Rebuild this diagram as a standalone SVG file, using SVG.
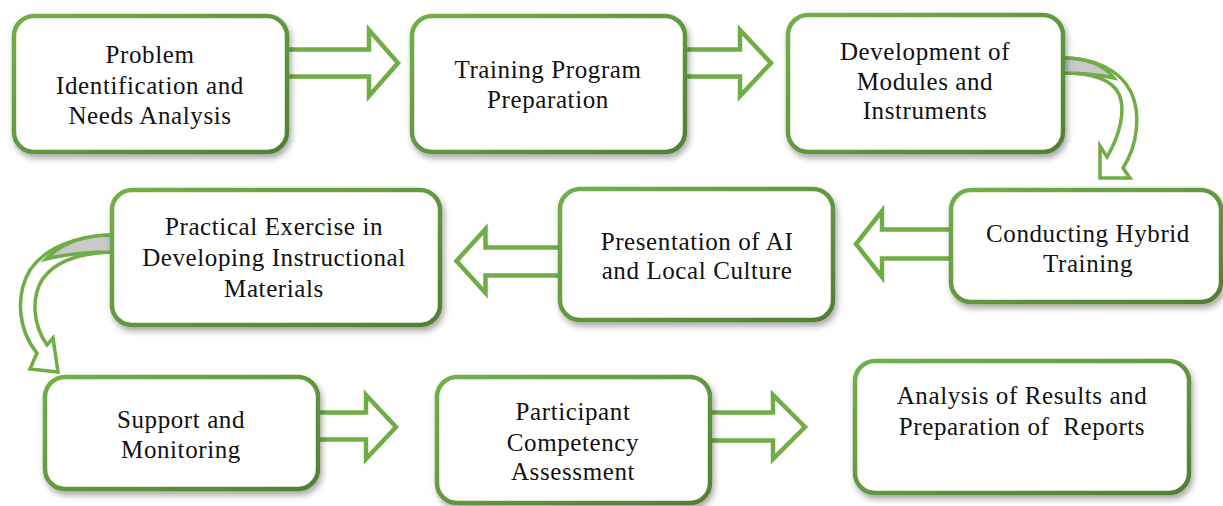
<svg xmlns="http://www.w3.org/2000/svg" width="1223" height="506" viewBox="0 0 1223 506">
  <defs>
    <linearGradient id="boxStroke" x1="0" y1="0" x2="1" y2="1">
      <stop offset="0" stop-color="#72B04A"/>
      <stop offset="0.5" stop-color="#62993F"/>
      <stop offset="1" stop-color="#507F33"/>
    </linearGradient>
    <filter id="shadow" x="-10%" y="-10%" width="125%" height="130%">
      <feDropShadow dx="2" dy="4" stdDeviation="3" flood-color="#000" flood-opacity="0.35"/>
    </filter>
  </defs>
  <style>
    .box { fill: #fff; stroke: url(#boxStroke); stroke-width: 4.5; filter: url(#shadow); }
    .label { font-family: "Liberation Serif", "Times New Roman", serif; font-size: 25px; letter-spacing: 0.6px; fill: #111; text-anchor: middle; }
    .block { fill: #fff; stroke: #70AD47; stroke-width: 4.5; stroke-linejoin: miter; }
    .curve { fill: #fff; stroke: #70AD47; stroke-width: 3.5; stroke-linejoin: miter; }
    .back { fill: #C9C9C9; stroke: #70AD47; stroke-width: 3.5; }
  </style>
  <rect width="1223" height="506" fill="#fff"/>

  <g id="connectors">
    <!-- straight block arrows -->
    <path class="block" d="M287,49.5 H369 V30 L398,63 L369,96 V76.5 H287"/>
    <path class="block" d="M685,49.5 H740 V30 L771,63 L740,96 V76.5 H685"/>
    <path class="block" d="M951,229.5 H882 V211 L856,244 L882,277 V258.5 H951"/>
    <path class="block" d="M560,247.5 H485.5 V229 L456.5,261 L485.5,293 V275.5 H560"/>
    <path class="block" d="M318,412.5 H366 V395 L396,427 L366,459 V439.5 H318"/>
    <path class="block" d="M710,412.5 H773 V395 L805,427 L773,459 V440.5 H710"/>

    <!-- curved arrow: modules and instruments to hybrid training -->
    <path class="curve" d="M1063,58 C1095,58 1120,70 1131,92 C1141,113 1138,145 1123,168 L1130,178 L1100,178 L1100,146 L1107,157 C1120,135 1126,110 1119,94 C1112,80 1092,73 1063,73 Z"/>
    <path class="back" d="M1063,58 C1088,58 1104,65 1114,78 C1100,75 1085,73 1063,73 Z"/>

    <!-- curved arrow: practical exercise to support and monitoring -->
    <path class="curve" d="M112,235 C75,236 45,248 30,270 C15,295 18,330 37,353 L30,369 L58,372 L53,338 L47,345 C33,325 31,298 42,280 C54,262 78,253 112,252 Z"/>
    <path class="back" d="M112,235 C85,235 62,243 46,259 C62,255 85,252 112,252 Z"/>
  </g>

  <g id="node-problem">
    <rect class="box" x="14" y="16" width="273" height="136" rx="20"/>
    <text class="label" x="150" y="63">Problem</text>
    <text class="label" x="150" y="94">Identification and</text>
    <text class="label" x="150" y="124">Needs Analysis</text>
  </g>

  <g id="node-program">
    <rect class="box" x="412" y="16" width="273" height="136" rx="20"/>
    <text class="label" x="548" y="78">Training Program</text>
    <text class="label" x="548" y="108">Preparation</text>
  </g>

  <g id="node-modules">
    <rect class="box" x="788" y="15" width="275" height="137" rx="20"/>
    <text class="label" x="925" y="60">Development of</text>
    <text class="label" x="925" y="90">Modules and</text>
    <text class="label" x="925" y="119">Instruments</text>
  </g>

  <g id="node-hybrid">
    <rect class="box" x="951" y="190" width="270" height="112" rx="20"/>
    <text class="label" x="1088" y="242">Conducting Hybrid</text>
    <text class="label" x="1088" y="272">Training</text>
  </g>

  <g id="node-presentation">
    <rect class="box" x="560" y="189" width="273" height="131" rx="20"/>
    <text class="label" x="697" y="250">Presentation of AI</text>
    <text class="label" x="697" y="279">and Local Culture</text>
  </g>

  <g id="node-practical">
    <rect class="box" x="112" y="190" width="328" height="135" rx="20"/>
    <text class="label" x="274" y="235">Practical Exercise in</text>
    <text class="label" x="274" y="266">Developing Instructional</text>
    <text class="label" x="274" y="297">Materials</text>
  </g>

  <g id="node-support">
    <rect class="box" x="45" y="377" width="273" height="112" rx="20"/>
    <text class="label" x="181" y="428">Support and</text>
    <text class="label" x="181" y="458">Monitoring</text>
  </g>

  <g id="node-assessment">
    <rect class="box" x="437" y="377" width="273" height="126" rx="20"/>
    <text class="label" x="573" y="420">Participant</text>
    <text class="label" x="573" y="451">Competency</text>
    <text class="label" x="573" y="480">Assessment</text>
  </g>

  <g id="node-reports">
    <rect class="box" x="855" y="361" width="334" height="132" rx="20"/>
    <text class="label" x="1022" y="404">Analysis of Results and</text>
    <text class="label" x="1022" y="435" xml:space="preserve">Preparation of  Reports</text>
  </g>
</svg>
